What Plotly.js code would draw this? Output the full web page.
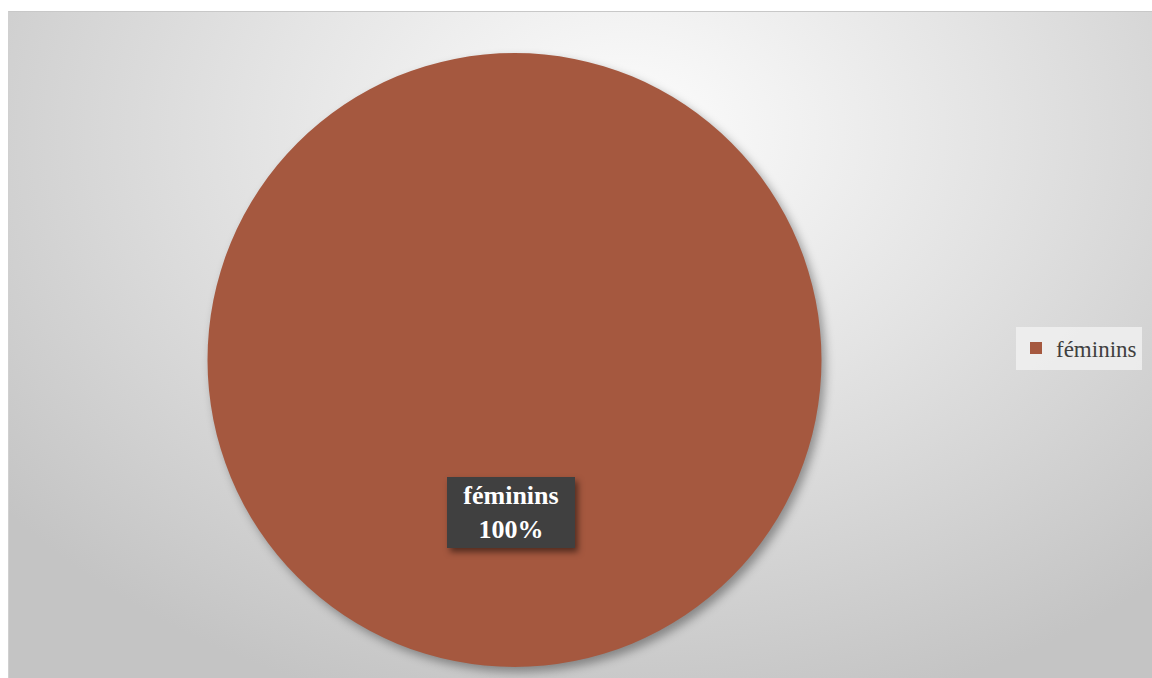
<!DOCTYPE html>
<html>
<head>
<meta charset="utf-8">
<script src="https://cdn.plot.ly/plotly-3.0.1.min.js"></script>
<style>
  html, body { margin: 0; padding: 0; background: #ffffff; }
  #frame {
    position: absolute; left: 8px; top: 11px; width: 1144px; height: 667px;
    background: radial-gradient(ellipse 70% 90% at 54% 18%, #fdfdfd 0%, #e4e4e4 45%, #c4c4c4 100%);
    border-top: 1px solid #c8c8c8; border-left: 1px solid #d0d0d0;
  }
  #chart { position: absolute; left: 0; top: 0; width: 1152px; height: 678px; }
  #chart .pielayer .slice path { filter: drop-shadow(4px 5px 5px rgba(0,0,0,0.35)); }
  #chart .annotation-text-g .bg { filter: drop-shadow(3px 4px 3px rgba(0,0,0,0.5)); }
</style>
</head>
<body>
<div id="frame"></div>
<div id="chart"></div>
<script>
const labels = ["féminins"];
const values = [100];
const colors = ["#A5583F"];

const total = values.reduce((a, b) => a + b, 0);
const labelText = labels[0] + "<br>" + Math.round(values[0] / total * 100) + "%";

const data = [{
  type: "pie",
  labels: labels,
  values: values,
  marker: { colors: colors, line: { width: 0 } },
  textinfo: "none",
  hoverinfo: "label+percent",
  sort: false,
  showlegend: true,
  domain: { x: [207 / 1152, 822 / 1152], y: [11 / 678, 625 / 678] }
}];

const layout = {
  width: 1152,
  height: 678,
  margin: { l: 0, r: 0, t: 0, b: 0 },
  paper_bgcolor: "rgba(0,0,0,0)",
  plot_bgcolor: "rgba(0,0,0,0)",
  font: { family: "Liberation Serif, serif", color: "#404040" },
  showlegend: true,
  legend: {
    x: 1016 / 1152, xanchor: "left",
    y: 1 - 348 / 678, yanchor: "middle",
    bgcolor: "rgba(240,240,240,0.85)",
    font: { family: "Liberation Serif, serif", size: 23, color: "#404040" },
    itemwidth: 30,
    borderwidth: 0
  },
  annotations: [{
    text: "<b>" + labelText + "</b>",
    xref: "paper", yref: "paper",
    x: 511 / 1152, y: 1 - 512 / 678,
    xanchor: "center", yanchor: "middle",
    showarrow: false,
    font: { family: "Liberation Serif, serif", size: 26, color: "#ffffff" },
    bgcolor: "#404040",
    width: 122,
    height: 65,
    borderpad: 3,
    borderwidth: 0
  }]
};

Plotly.newPlot("chart", data, layout, { displayModeBar: false, staticPlot: true });
</script>
</body>
</html>
